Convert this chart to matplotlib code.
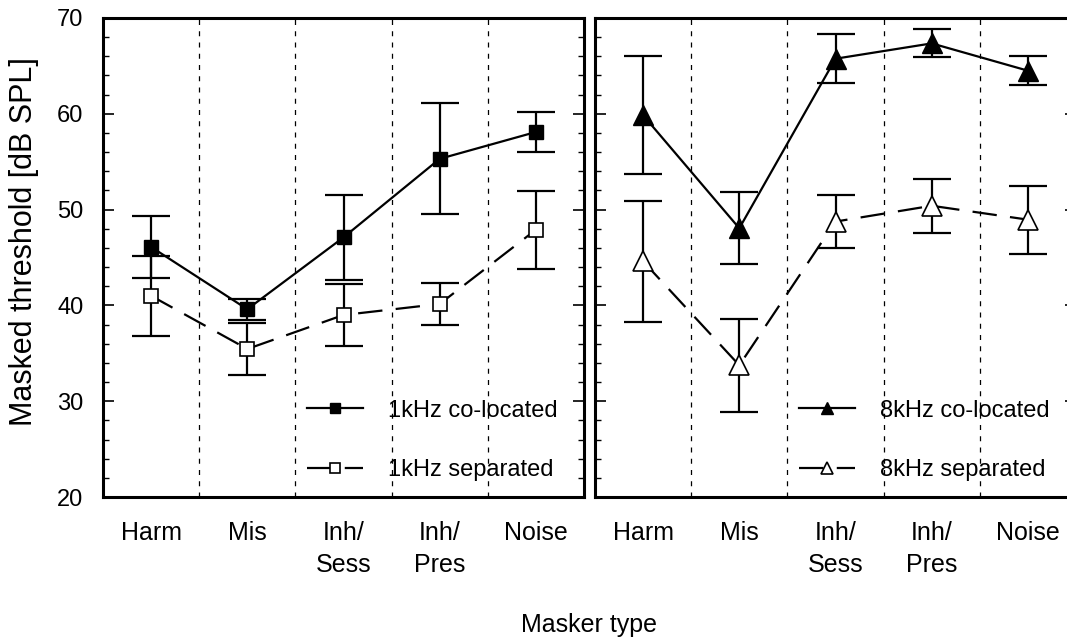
import numpy as np
import matplotlib.pyplot as plt
from matplotlib.ticker import MultipleLocator

plt.rcParams['font.family'] = ['Liberation Sans', 'DejaVu Sans']

maskers = ["Harm", "Mis", "Inh/\nSess", "Inh/\nPres", "Noise"]

# 1 kHz thresholds (mean, half-width of error bar)
khz1_coloc = [46.1, 39.6, 47.1, 55.3, 58.1]
khz1_coloc_err = [3.2, 1.1, 4.4, 5.8, 2.1]
khz1_sep = [41.0, 35.45, 39.0, 40.15, 47.9]
khz1_sep_err = [4.2, 2.75, 3.2, 2.2, 4.05]

# 8 kHz thresholds
khz8_coloc = [59.85, 48.05, 65.75, 67.35, 64.5]
khz8_coloc_err = [6.15, 3.75, 2.55, 1.45, 1.5]
khz8_sep = [44.6, 33.75, 48.75, 50.4, 48.95]
khz8_sep_err = [6.3, 4.85, 2.75, 2.8, 3.55]

W, H = 1067, 641
fig = plt.figure(figsize=(W / 100, H / 100), dpi=100)

bottom = (H - 497) / H
height = 479 / H
width = 481 / W
ax1 = fig.add_axes([103 / W, bottom, width, height])
ax2 = fig.add_axes([595 / W, bottom, width, height])

x = np.arange(1, 6)


def panel(ax, coloc, coloc_err, sep, sep_err, marker, ms, lab_c, lab_s, mscale):
    for xd in [1.5, 2.5, 3.5, 4.5]:
        ax.axvline(xd, color='black', lw=0.9, ls=(0, (4, 5)), zorder=1)
    ax.errorbar(x, sep, yerr=sep_err, color='black', lw=1.6, ls='none',
                capsize=14, capthick=1.6, zorder=2)
    ax.errorbar(x, coloc, yerr=coloc_err, color='black', lw=1.6, ls='none',
                capsize=14, capthick=1.6, zorder=2)
    ax.plot(x, sep, color='black', lw=1.6, dashes=(11, 6), marker=marker,
            ms=ms, mfc='white', mec='black', mew=1.2, label=lab_s, zorder=3)
    ax.plot(x, coloc, color='black', lw=1.6, marker=marker, ms=ms,
            mfc='black', mec='black', label=lab_c, zorder=4)
    handles, labels = ax.get_legend_handles_labels()
    ax.legend(handles[::-1], labels[::-1], loc='lower left',
              bbox_to_anchor=(0.38, -0.012), frameon=False, fontsize=17,
              handlelength=2.35, handletextpad=1.1, labelspacing=1.6,
              markerscale=mscale)

    ax.set_xlim(0.5, 5.5)
    ax.set_ylim(20, 70)
    ax.set_xticks(x)
    ax.set_xticklabels(maskers, fontsize=18, linespacing=1.45)
    ax.yaxis.set_major_locator(MultipleLocator(10))
    ax.yaxis.set_minor_locator(MultipleLocator(2))
    ax.tick_params(axis='x', length=0, pad=17)
    ax.tick_params(axis='y', which='major', direction='in', length=8,
                   width=1.2, left=True, right=True, labelsize=17, pad=14)
    ax.tick_params(axis='y', which='minor', direction='in', length=4,
                   width=1.0, left=True, right=True)
    for sp in ax.spines.values():
        sp.set_linewidth(2.2)


panel(ax1, khz1_coloc, khz1_coloc_err, khz1_sep, khz1_sep_err, 's', 10,
      "1kHz co-located", "1kHz separated", 0.7)
panel(ax2, khz8_coloc, khz8_coloc_err, khz8_sep, khz8_sep_err, '^', 14,
      "8kHz co-located", "8kHz separated", 0.6)
ax2.tick_params(axis='y', labelleft=False)

fig.text(24 / W, 1 - 242 / H, "Masked threshold [dB SPL]", rotation=90,
         ha='center', va='center', fontsize=22)
fig.text(589 / W, 1 - 625 / H, "Masker type", ha='center', va='center',
         fontsize=18)

fig.savefig("out.png", dpi=100)
